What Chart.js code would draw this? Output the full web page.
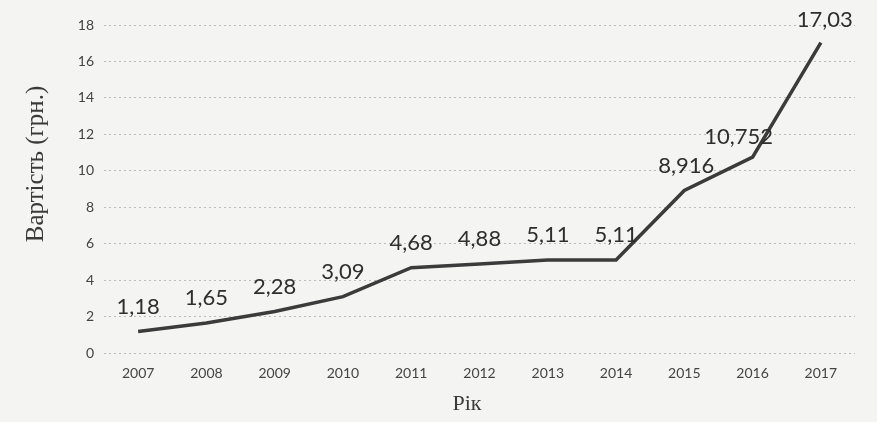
<!DOCTYPE html>
<html>
<head>
<meta charset="utf-8">
<script src="https://cdn.jsdelivr.net/npm/chart.js@4.4.0/dist/chart.umd.min.js"></script>
<style>
  html, body { margin: 0; padding: 0; background: #f4f4f3; }
  #wrap { width: 877px; height: 422px; position: relative; }
</style>
</head>
<body>
<div id="wrap"><canvas id="c" width="877" height="422"></canvas></div>
<script>
const years = ['2007','2008','2009','2010','2011','2012','2013','2014','2015','2016','2017'];
const costs = [1.18, 1.65, 2.28, 3.09, 4.68, 4.88, 5.11, 5.11, 8.916, 10.752, 17.03];
const costLabels = ['1,18','1,65','2,28','3,09','4,68','4,88','5,11','5,11','8,916','10,752','17,03'];
const yTitle = 'Вартість (грн.)';
const xTitle = 'Рік';

const labelPlugin = {
  id: 'pointLabels',
  afterDatasetsDraw(chart, args, opts) {
    const ctx = chart.ctx;
    const meta = chart.getDatasetMeta(0);
    ctx.save();
    ctx.font = '22px Lato, "Liberation Sans", sans-serif';
    ctx.fillStyle = '#2e2e2e';
    ctx.textAlign = 'center';
    ctx.textBaseline = 'middle';
    meta.data.forEach((pt, i) => {
      const adj = (opts.adjust && opts.adjust[i]) || [0, 0];
      ctx.fillText(costLabels[i], pt.x + adj[0], pt.y - 25 + adj[1]);
    });
    ctx.restore();
  }
};

const titlePlugin = {
  id: 'axisTitles',
  afterDraw(chart) {
    const ctx = chart.ctx;
    ctx.save();
    ctx.fillStyle = '#3a3a3a';
    ctx.textAlign = 'center';
    ctx.textBaseline = 'middle';
    ctx.font = '25px "Liberation Serif", "DejaVu Serif", serif';
    ctx.translate(36, 164);
    ctx.rotate(-Math.PI / 2);
    ctx.fillText(yTitle, 0, 0);
    ctx.restore();
    ctx.save();
    ctx.fillStyle = '#3a3a3a';
    ctx.textAlign = 'center';
    ctx.textBaseline = 'middle';
    ctx.font = '22px "Liberation Serif", "DejaVu Serif", serif';
    ctx.fillText(xTitle, 467, 404);
    ctx.restore();
  }
};

new Chart(document.getElementById('c'), {
  type: 'line',
  data: {
    labels: years,
    datasets: [{
      data: costs,
      borderColor: '#3b3b3b',
      borderWidth: 3.5,
      pointRadius: 0,
      tension: 0,
      fill: false
    }]
  },
  options: {
    responsive: false,
    animation: false,
    layout: { padding: { top: 25, right: 22, bottom: 0, left: 0 } },
    plugins: {
      legend: { display: false },
      tooltip: { enabled: false },
      pointLabels: { adjust: { 8: [2, 0], 9: [-14, 5], 10: [4, 2] } }
    },
    scales: {
      x: {
        offset: true,
        grid: { display: false },
        border: { display: false },
        ticks: {
          color: '#444',
          font: { family: 'Lato, "Liberation Sans", sans-serif', size: 14 },
          padding: 4,
          maxRotation: 0
        },
        afterFit(scale) { scale.height = 69; }
      },
      y: {
        min: 0,
        max: 18,
        ticks: {
          stepSize: 2,
          color: '#444',
          font: { family: 'Lato, "Liberation Sans", sans-serif', size: 14 },
          padding: 10
        },
        grid: {
          color: 'rgba(120,120,120,0.45)',
          lineWidth: 1,
          drawTicks: false
        },
        border: { display: false, dash: [2, 3] },
        afterFit(scale) { scale.width = 104; }
      }
    }
  },
  plugins: [labelPlugin, titlePlugin]
});
</script>
</body>
</html>
